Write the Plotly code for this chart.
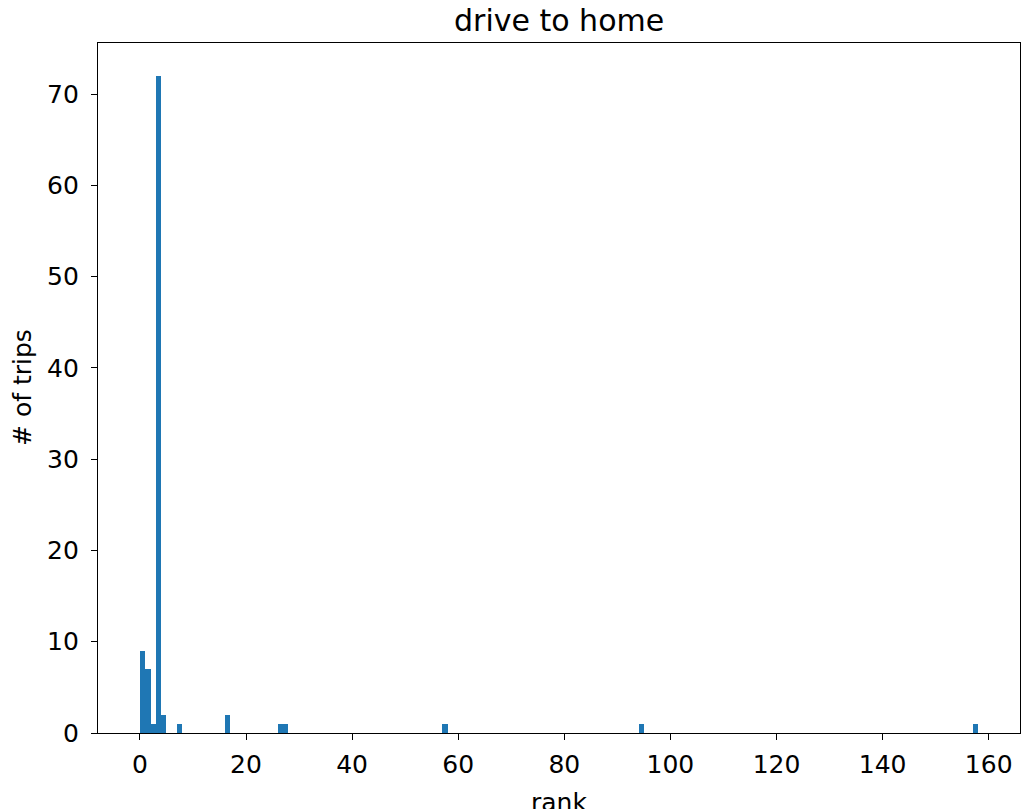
import plotly.graph_objects as go

# Histogram data: left edge of each non-empty bin (bin width 1) and trip counts
bin_left = [0, 1, 2, 3, 4, 7, 16, 26, 27, 57, 94, 157]
trip_counts = [9, 7, 1, 72, 2, 1, 2, 1, 1, 1, 1, 1]
bin_width = 1
x_ticks = [0, 20, 40, 60, 80, 100, 120, 140, 160]
y_ticks = [0, 10, 20, 30, 40, 50, 60, 70]

FONT = "DejaVu Sans"

fig = go.Figure(
    go.Bar(
        x=bin_left,
        y=trip_counts,
        width=[bin_width] * len(bin_left),
        offset=0,
        marker=dict(color="#1f77b4", line=dict(width=0)),
    )
)

axis_common = dict(
    showline=True, linecolor="black", linewidth=1.3, mirror=True,
    ticks="outside", ticklen=6, tickwidth=1.3, tickcolor="black",
    showgrid=False, zeroline=False,
    tickfont=dict(family=FONT, size=25, color="black"),
)

fig.update_layout(
    width=1033, height=809, autosize=False,
    margin=dict(l=90, r=21, t=35, b=84),
    paper_bgcolor="white", plot_bgcolor="white",
    bargap=0, showlegend=False,
    xaxis=dict(range=[-7.9, 165.9], tickvals=x_ticks, ticklabelstandoff=3, **axis_common),
    yaxis=dict(range=[0, 75.6], tickvals=y_ticks, ticklabelstandoff=7, **axis_common),
    annotations=[
        dict(text="drive to home", xref="paper", yref="paper", x=0.5, y=1,
             xanchor="center", yanchor="bottom", yshift=3, showarrow=False,
             font=dict(family=FONT, size=30, color="black")),
        dict(text="# of trips", xref="paper", yref="paper", x=0, y=0.5,
             xanchor="center", yanchor="middle", xshift=-76, textangle=-90,
             showarrow=False, font=dict(family=FONT, size=25, color="black")),
        dict(text="rank", xref="paper", yref="paper", x=0.5, y=0,
             xanchor="center", yanchor="top", yshift=-53, showarrow=False,
             font=dict(family=FONT, size=25, color="black")),
    ],
)

fig.write_html("out.html")
